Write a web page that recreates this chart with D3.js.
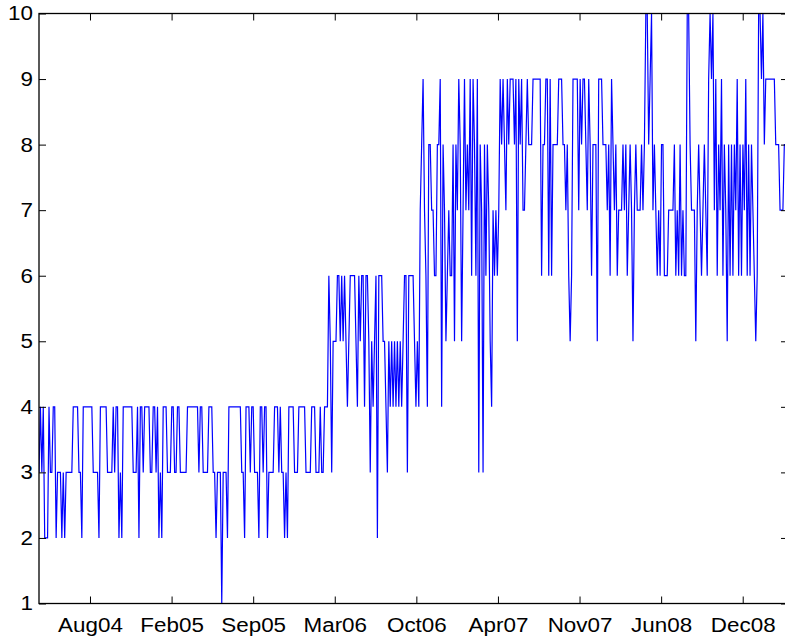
<!DOCTYPE html>
<html>
<head>
<meta charset="utf-8">
<script src="https://cdn.jsdelivr.net/npm/d3@7"></script>
<style>
  html, body { margin: 0; padding: 0; background: #fff; }
  svg { display: block; }
  text { font-family: "Liberation Sans", Arial, Helvetica, sans-serif; }
</style>
</head>
<body>
<svg id="chart" width="785" height="644"></svg>
<script>
// Twice-weekly observations (every 3.5 days), first one on 2004-03-29
const firstObservation = "2004-03-29";
const obs2004 = [3,4,3,4,2,2,2,4,3,3, 4,4,2,3,3,3,2,3,2,3, 3,3,3,3,4,4,4,4,3,3, 2,4,4,4,4,4,4,4,3,3,
                 3,3,2,4,4,4,4,4,3,3, 3,3,4,3,4,4,2,3,2,4, 4,4,4,4,4,4,3,3,3,4, 2,4,4,3,4,4,4,4,3,3];
const obs2005 = [4,4,3,4,2,3,2,4,4,4, 3,3,3,4,4,3,3,4,4,3, 3,3,3,3,4,4,4,4,4,4, 4,4,3,4,4,3,3,3,3,4,
                 4,4,3,3,2,3,3,3,1,3, 3,3,2,4,4,4,4,4,4,4, 4,4,3,3,2,4,4,4,3,4, 4,3,3,3,2,4,4,3,4,4,
                 2,3,3,3,3,4,4,4,3,4, 3,3,2,3,2,4,4,4,4,3, 3,3,4,4];
const obs2006 = [4,4,4,3,3,3,3,4,4,4, 3,3,3,4,3,3,4,4,4,6, 5,3,5,5,5,6,6,5,6,5, 6,5,4,5,6,6,6,6,5,4,
                 6,5,6,6,4,6,6,5,3,5, 4,5,6,2,6,6,6,5,5,4, 3,5,4,5,4,5,4,5,4,5, 4,5,6,6,3,6,6,6,6,5,
                 4,5,4,7,8,9,7,6,4,8, 8,7,7,6,6,8,8,9,4,8, 7,5,6,7];
const obs2007 = [6,6,8,5,8,7,9,8,5,7, 9,7,8,7,9,6,9,8,6,9, 3,8,7,3,8,6,8,7,5,4, 7,6,7,6,7,9,8,9,8,7,
                 9,8,9,9,9,8,9,5,9,8, 9,7,7,8,9,8,8,8,9,9, 9,9,9,9,6,8,8,9,9,6, 9,6,8,8,8,8,9,9,9,8,
                 8,7,8,6,5,6,9,9,9,9, 7,9,8,9,9,8,7,9,8,6, 8,8,8,5];
const obs2008 = [9,9,9,8,8,8,7,8,6,9, 8,7,8,6,7,7,7,8,7,8, 6,7,8,7,5,7,8,7,7,7, 8,7,8,10,10,8,9,10,7,8,
                 7,6,7,6,8,8,6,6,6,7, 7,7,7,8,6,7,6,8,6,7, 6,6,10,10,8,7,7,7,5,7, 8,7,6,7,8,7,6,9,10,9,
                 10,7,9,6,8,7,9,6,8,7, 5,8,6,8,6,8,7,9,6,8, 6,8,7,9];
const obs2009 = [6,8,6,8,7,6,5,6,10,10, 9,10,8,9,9,9,9,9,9,9, 8,8,8,7,7,7,8,8,8,8];

// Axis settings
const xDomain = ["2004-03-29", "2009-04-08"];
const xTickDates = ["2004-08-01","2005-02-17","2005-09-05","2006-03-24","2006-10-10",
                    "2007-04-28","2007-11-14","2008-06-01","2008-12-18"];
const yDomain = [1, 10];
const yTicks = [1,2,3,4,5,6,7,8,9,10];

const parseDay = d3.utcParse("%Y-%m-%d");
const fmtMonth = d3.utcFormat("%b%y");

const values = [].concat(obs2004, obs2005, obs2006, obs2007, obs2008, obs2009);
const startDay = parseDay(firstObservation);
const series = values.map((v, i) => ({ date: d3.utcHour.offset(startDay, i * 84), value: v }));

const frame = { left: 39, right: 788, top: 13.5, bottom: 603.5 };

const svg = d3.select("#chart");

const x = d3.scaleUtc().domain(xDomain.map(parseDay)).range([frame.left, frame.right]);
const y = d3.scaleLinear().domain(yDomain).range([frame.bottom, frame.top]);

const tickLen = 7;
const fontSize = 20;
const labelStretch = 1.12;

svg.append("defs").append("clipPath").attr("id", "plot-clip")
  .append("rect")
  .attr("x", frame.left).attr("y", frame.top - 1)
  .attr("width", frame.right - frame.left).attr("height", frame.bottom - frame.top + 2);

// data line
svg.append("path")
  .datum(series)
  .attr("clip-path", "url(#plot-clip)")
  .attr("fill", "none")
  .attr("stroke", "#0000ff")
  .attr("stroke-width", 1.2)
  .attr("d", d3.line().x(d => x(d.date)).y(d => y(d.value)));

// axes on all four sides, ticks pointing inward
const xTicks = xTickDates.map(parseDay);

const axisB = svg.append("g")
  .attr("transform", `translate(0,${frame.bottom})`)
  .call(d3.axisBottom(x).tickValues(xTicks).tickFormat(fmtMonth)
        .tickSizeInner(-tickLen).tickSizeOuter(0).tickPadding(14));

const axisT = svg.append("g")
  .attr("transform", `translate(0,${frame.top})`)
  .call(d3.axisTop(x).tickValues(xTicks).tickFormat("")
        .tickSizeInner(-tickLen).tickSizeOuter(0));

const axisL = svg.append("g")
  .attr("transform", `translate(${frame.left},0)`)
  .call(d3.axisLeft(y).tickValues(yTicks).tickFormat(d3.format("d"))
        .tickSizeInner(-tickLen).tickSizeOuter(0).tickPadding(6));

const axisR = svg.append("g")
  .attr("transform", `translate(${frame.right},0)`)
  .call(d3.axisRight(y).tickValues(yTicks).tickFormat("")
        .tickSizeInner(-tickLen).tickSizeOuter(0));

[axisB, axisT, axisL, axisR].forEach(g => {
  g.select(".domain").remove();
  g.selectAll(".tick line").attr("stroke", "#000").attr("stroke-width", 1);
  g.selectAll(".tick text")
    .attr("fill", "#000")
    .style("font-size", fontSize + "px")
    .style("font-family", '"Liberation Sans", Arial, Helvetica, sans-serif')
    .each(function () {
      const w = this.getComputedTextLength();
      d3.select(this).attr("textLength", w * labelStretch).attr("lengthAdjust", "spacingAndGlyphs");
    });
});

// plot frame
svg.append("rect")
  .attr("x", frame.left).attr("y", frame.top)
  .attr("width", frame.right - frame.left).attr("height", frame.bottom - frame.top)
  .attr("fill", "none").attr("stroke", "#000").attr("stroke-width", 1.3);
</script>
</body>
</html>
